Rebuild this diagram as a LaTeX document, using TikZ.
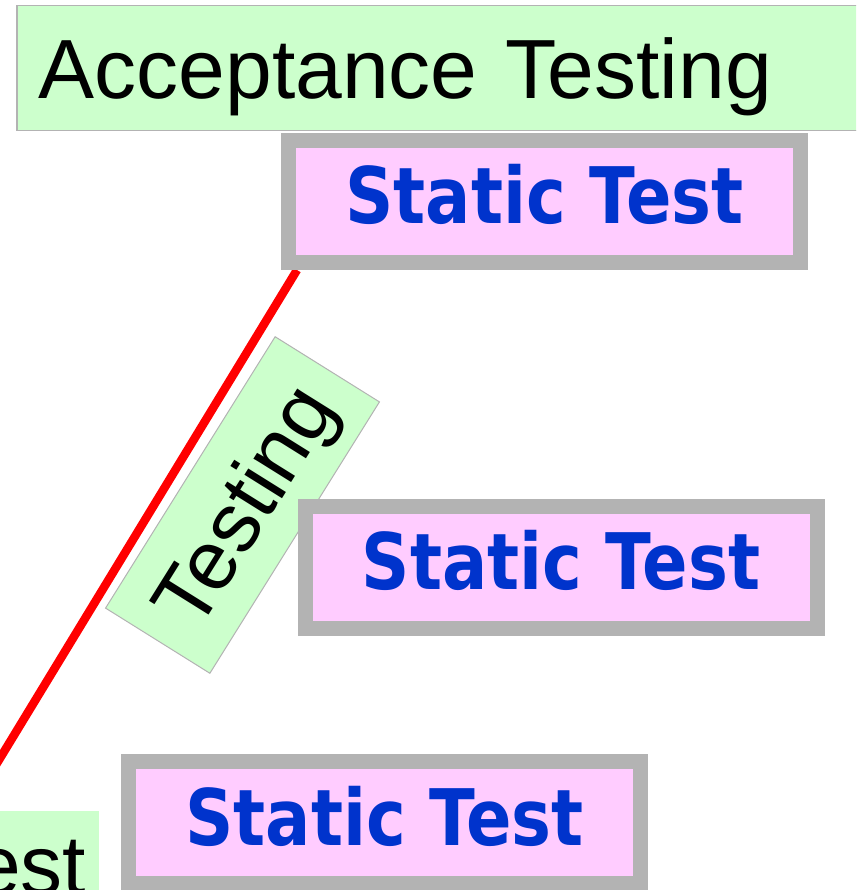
\documentclass[tikz,border=0pt]{standalone}
\usepackage{fontspec}
\usetikzlibrary{backgrounds}
\setmainfont{Liberation Sans}
\newfontfamily\boxfont{DejaVu Sans}[FakeStretch=0.86]
\definecolor{phasegreen}{HTML}{CCFFCC}
\definecolor{testpink}{HTML}{FFCCFF}
\definecolor{framegray}{HTML}{B3B3B3}
\definecolor{testblue}{HTML}{0033CC}

\begin{document}
\begin{tikzpicture}[x=1pt,y=-1pt]
    \tikzstyle{phase} = [rectangle, draw=framegray, line width=1.5pt, fill=phasegreen, font=\fontsize{84}{100}\selectfont, text height=60pt, text depth=0pt, inner sep=0pt]
    \tikzstyle{statictest} = [rectangle, draw=framegray, line width=15pt, fill=testpink, text=testblue, font=\boxfont\bfseries\fontsize{78}{90}\selectfont, minimum width=512pt, minimum height=122pt, text height=45pt, text depth=0pt, inner sep=0pt]
    \tikzstyle{vmodel} = [red, line width=8.5pt]

    \useasboundingbox (0,0) rectangle (856,890);
    \clip (0,0) rectangle (856,890);

    \node[phase, anchor=north west, text width=816pt, inner xsep=22pt, inner ysep=32.5pt, align=left] (acceptance) at (16,5) {Acceptance Testing};
    \node[phase, line width=1pt, rotate=58, minimum width=320pt, minimum height=123pt] (testing) at (242.5,505) {Testing};
    \node[phase, draw=none, anchor=north east, text width=100pt, inner xsep=25pt, inner ysep=24pt, align=right] (unittest) at (100,810) {est};

    \node[statictest] (statictop) at (544.5,201.5) {Static Test};
    \node[statictest] (staticmid) at (561,567) {Static Test};
    \node[statictest] (staticlow) at (384.5,822.5) {Static Test};

    \coordinate (vbot) at (-12,778);
    \begin{pgfonlayer}{background}
        \draw[vmodel] ([xshift=16pt]statictop.south west) -- (vbot);
    \end{pgfonlayer}
\end{tikzpicture}
\end{document}
